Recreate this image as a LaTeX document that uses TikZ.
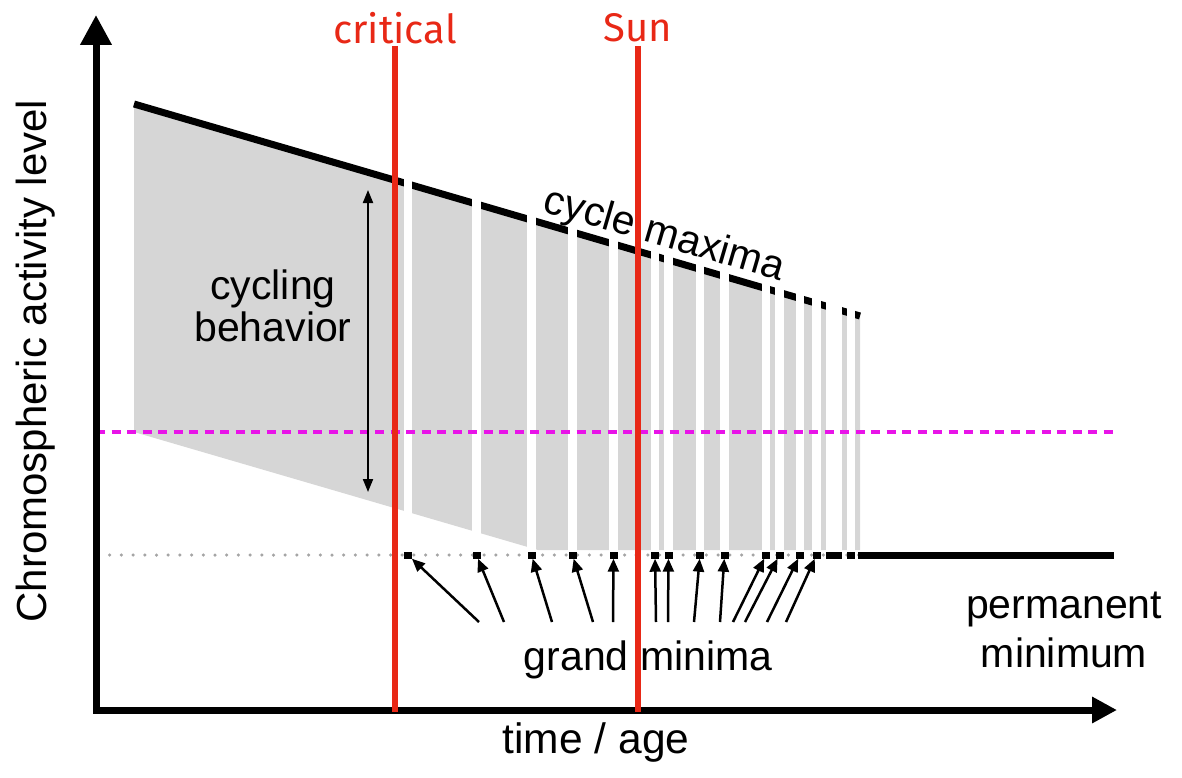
\documentclass[tikz,border=0pt]{standalone}
\usepackage{fontspec}
\setmainfont{Liberation Sans}
\newfontfamily\redfont{Fira Sans}
\usetikzlibrary{arrows.meta}
\definecolor{regiongray}{RGB}{214,214,214}
\definecolor{critred}{RGB}{232,40,22}
\definecolor{mag}{RGB}{232,20,232}
\definecolor{dotgray}{RGB}{165,165,165}
\begin{document}
\begin{tikzpicture}[x=1pt,y=-1pt,
  axisline/.style={line width=7pt,-{Triangle[length=30pt,width=30pt]}},
  redline/.style={critred,line width=6pt},
  redlabel/.style={critred,font=\redfont\fontsize{40}{42}\selectfont,inner sep=0pt},
  txt/.style={font=\fontsize{41}{46}\selectfont,inner sep=0pt,align=center},
  minsq/.style={fill=black,inner sep=0pt,minimum height=7pt,draw=none},
  gmarrow/.style={line width=2.5pt,-{Triangle[length=13pt,width=11pt]}},
  cbarrow/.style={line width=2pt,{Triangle[length=13pt,width=10pt]}-{Triangle[length=13pt,width=10pt]}}
]
\useasboundingbox (0,0) rectangle (1182,778);
% gray cycling region
\fill[regiongray] (134,104) -- (860,316) -- (860,550) -- (538,550) -- (134,432) -- cycle;
\draw[line width=7pt] (134,104) -- (860,316);
% white gaps (grand minima)
\foreach \a/\b in {404/412,472/481,527/536,568/577,609/618,651/659,664/673,696/704,720/729,762/770,775/784,796/804,812/821,826/842,847/855}
  \fill[white] (\a,90) rectangle (\b,552);
% dotted baseline
\draw[dotgray,line width=3.5pt,line cap=round,dash pattern=on 0pt off 11.7pt] (98,555) -- (860,555);
% magenta dashed level
\draw[mag,line width=4pt,dash pattern=on 9pt off 6.5pt] (96,432) -- (1117,432);
% permanent minimum
\coordinate (pmstart) at (858,555);
\coordinate (pmend) at (1114,555);
\draw[line width=7pt] (pmstart) -- (pmend);
% grand minima squares
\node[minsq,minimum width=8pt] (sq1) at (408,555) {};
\node[minsq,minimum width=8pt] (sq2) at (476.5,555) {};
\node[minsq,minimum width=8pt] (sq3) at (531.5,555) {};
\node[minsq,minimum width=8pt] (sq4) at (572.5,555) {};
\node[minsq,minimum width=8pt] (sq5) at (613.5,555) {};
\node[minsq,minimum width=8pt] (sq6) at (655,555) {};
\node[minsq,minimum width=8pt] (sq7) at (668.5,555) {};
\node[minsq,minimum width=8pt] (sq8) at (700,555) {};
\node[minsq,minimum width=8pt] (sq9) at (724.5,555) {};
\node[minsq,minimum width=8pt] (sq10) at (766,555) {};
\node[minsq,minimum width=8pt] (sq11) at (779.5,555) {};
\node[minsq,minimum width=8pt] (sq12) at (800,555) {};
\node[minsq,minimum width=8pt] (sq13) at (816.5,555) {};
\node[minsq,minimum width=16pt] (sq14) at (834,555) {};
\node[minsq,minimum width=8pt] (sq15) at (851,555) {};
% axes
\coordinate (origin) at (96,713);
\coordinate (ytip) at (96,15);
\coordinate (xstart) at (93,710);
\coordinate (xtip) at (1117,710);
\draw[axisline] (origin) -- (ytip);
\draw[axisline,-{Triangle[length=25pt,width=25pt]}] (xstart) -- (xtip);
% red lines
\coordinate (crittop) at (395,46);
\coordinate (critbot) at (395,712);
\coordinate (suntop) at (638,46);
\coordinate (sunbot) at (638,712);
\draw[redline] (crittop) -- (critbot);
\draw[redline] (suntop) -- (sunbot);
\node[redlabel] (critlabel) at (395,28) {critical};
\node[redlabel] (sunlabel) at (638,28) {Sun};
% cycling behaviour arrow
\coordinate (cbtop) at (368,190);
\coordinate (cbbot) at (368,492);
\draw[cbarrow] (cbtop) -- (cbbot);
% grand minima arrows
\foreach \sx/\k in {479/1,504/2,552/3,593/4,613/5,656/6,668/7,694/8,720/9,733/10,745/11,767/12,786/13}{
  \coordinate (gs\k) at (\sx,622);
  \draw[gmarrow] (gs\k) -- (sq\k);
}
% labels
\node[txt,font=\fontsize{41}{42}\selectfont] (cycling) at (273,306) {cycling\\behavior};
\node[txt,anchor=base,rotate=-16.3] (cyclemax) at (661,246) {cycle maxima};
\node[txt,anchor=base] (grandmin) at (648,670) {grand minima};
\node[txt,font=\fontsize{41}{49}\selectfont] (permmin) at (1064,630) {permanent\\minimum};
\node[txt,anchor=base,font=\fontsize{42.5}{46}\selectfont] (xlabel) at (596,753) {time / age};
\node[txt,anchor=base,rotate=90,font=\fontsize{42}{46}\selectfont] (ylabel) at (46,361) {Chromospheric activity level};
\end{tikzpicture}
\end{document}
